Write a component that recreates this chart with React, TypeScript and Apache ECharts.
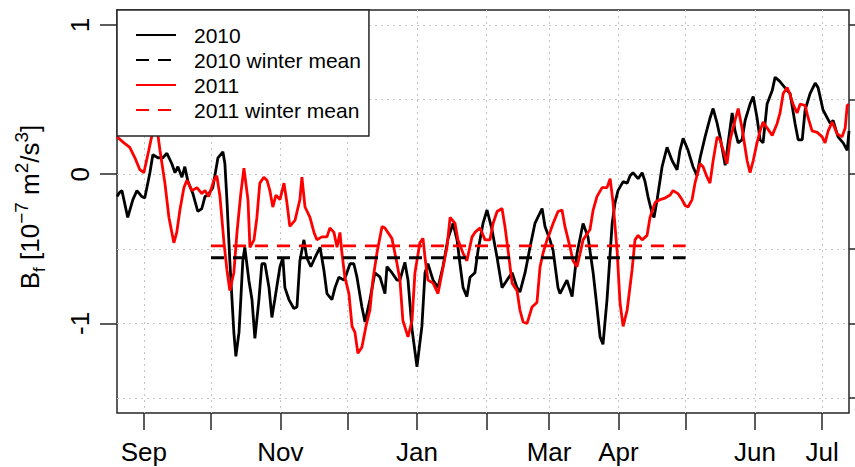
import { useEffect, useRef } from 'react';
import * as echarts from 'echarts';

const FONT = '"Liberation Sans", Arial, Helvetica, sans-serif';

// Days counted from 1 September; month starts used for ticks and grid
const monthStarts = [0, 30, 61, 91, 122, 153, 181, 212, 242, 273, 303];
const monthNames = ['Sep', 'Oct', 'Nov', 'Dec', 'Jan', 'Feb', 'Mar', 'Apr', 'May', 'Jun', 'Jul'];
const labelledMonths = ['Sep', 'Nov', 'Jan', 'Mar', 'Apr', 'Jun', 'Jul'];

const yLabelTicks = [-1, 0, 1];
const yGridTicks = [-1.5, -1, -0.5, 0, 0.5, 1];

// Winter period (1 Oct – 1 May) and its mean buoyancy flux
const winterSpan = [30, 242];
const winterMean2010 = -0.56;
const winterMean2011 = -0.48;

// [day since 1 Sep, B_f in 1e-7 m^2/s^3]
const flux2010: [number, number][] = [
  [-12, -0.15], [-10.7, -0.12], [-9.8, -0.11], [-7.2, -0.29], [-4.9, -0.17], [-3.1, -0.11], [-0.9, -0.15], [0.4, -0.16],
  [2.7, 0.01], [4.0, 0.13], [6.3, 0.11], [8.5, 0.11], [10.3, 0.14], [12.5, 0.07], [13.9, 0.01], [15.2, 0.05],
  [17.0, -0.02], [18.3, 0.05], [19.7, -0.05], [21.9, -0.13], [24.1, -0.25], [25.9, -0.23], [27.3, -0.15], [28.6, -0.14],
  [30.8, -0.09], [33.1, 0.11], [35.3, 0.15], [36.2, 0.07], [37.1, -0.17], [38.4, -0.58], [40.2, -1.06], [41.1, -1.22],
  [42.5, -1.06], [43.3, -0.84], [44.2, -0.58], [45.1, -0.49], [46.9, -0.71], [48.3, -0.84], [49.6, -1.10], [51.4, -0.84],
  [52.7, -0.60], [54.1, -0.60], [55.9, -0.76], [57.2, -0.96], [58.5, -0.84], [60.8, -0.62], [62.1, -0.56], [63.0, -0.76],
  [64.8, -0.84], [67.0, -0.90], [68.4, -0.89], [69.7, -0.58], [71.5, -0.44], [72.8, -0.56], [74.6, -0.62], [76.4, -0.56],
  [78.7, -0.49], [80.4, -0.64], [81.8, -0.80], [84.0, -0.84], [85.4, -0.76], [87.1, -0.69], [89.4, -0.71], [90.7, -0.66],
  [92.1, -0.60], [93.8, -0.60], [95.2, -0.69], [97.4, -0.89], [98.8, -0.99], [101.0, -0.84], [103.2, -0.66], [105.5, -0.69],
  [107.7, -0.80], [108.6, -0.62], [110.8, -0.66], [113.1, -0.71], [114.4, -0.71], [116.6, -0.59], [118.0, -0.71], [119.8, -1.04],
  [122.0, -1.29], [124.2, -1.02], [125.6, -0.66], [126.9, -0.60], [129.2, -0.71], [131.4, -0.76], [133.6, -0.62], [135.9, -0.43],
  [138.1, -0.33], [139.9, -0.44], [141.2, -0.60], [142.6, -0.76], [144.3, -0.82], [145.7, -0.69], [147.9, -0.66], [149.3, -0.51],
  [151.5, -0.33], [153.3, -0.24], [155.5, -0.37], [157.8, -0.56], [160.0, -0.76], [162.2, -0.71], [164.5, -0.66], [166.7, -0.76],
  [168.0, -0.79], [170.3, -0.66], [172.5, -0.49], [174.7, -0.33], [177.9, -0.23], [179.2, -0.35], [181.4, -0.44], [182.8, -0.51],
  [185.0, -0.76], [185.9, -0.80], [189.0, -0.71], [191.3, -0.82], [193.5, -0.53], [196.2, -0.33], [198.4, -0.42], [200.7, -0.66],
  [202.4, -0.89], [203.8, -1.09], [205.1, -1.14], [206.9, -0.84], [209.2, -0.33], [210.5, -0.19], [211.8, -0.11], [214.1, -0.05],
  [215.9, -0.06], [217.2, -0.01], [218.5, 0.01], [220.8, -0.03], [222.6, 0.01], [223.9, -0.05], [225.2, -0.15], [227.0, -0.26],
  [227.9, -0.29], [229.3, -0.17], [231.5, 0.05], [233.7, 0.18], [236.0, 0.09], [238.2, 0.03], [239.5, 0.16], [240.9, 0.24],
  [243.1, 0.16], [245.3, 0.05], [247.1, -0.01], [248.5, 0.11], [250.7, 0.25], [253.0, 0.38], [254.3, 0.44], [256.1, 0.34],
  [257.4, 0.25], [259.7, 0.06], [261.0, 0.21], [262.8, 0.41], [264.1, 0.29], [265.5, 0.21], [267.2, 0.23], [268.6, 0.36],
  [270.8, 0.47], [272.2, 0.52], [273.9, 0.38], [275.3, 0.23], [276.6, 0.21], [278.4, 0.47], [280.7, 0.56], [282.0, 0.65],
  [284.2, 0.62], [287.4, 0.56], [288.7, 0.54], [290.9, 0.34], [292.3, 0.23], [294.1, 0.23], [295.4, 0.43], [297.6, 0.54],
  [299.9, 0.61], [301.2, 0.58], [303.4, 0.43], [306.6, 0.34], [307.9, 0.36], [310.1, 0.25], [312.4, 0.21], [314.2, 0.16],
  [315, 0.29],
];

const flux2011: [number, number][] = [
  [-12, 0.25], [-8.9, 0.21], [-6.3, 0.18], [-4.0, 0.11], [-1.8, 0.03], [0.0, 0.01], [2.2, 0.16], [3.6, 0.26],
  [4.9, 0.33], [6.3, 0.26], [7.2, 0.16], [9.4, -0.06], [11.2, -0.29], [13.4, -0.46], [14.7, -0.39], [16.1, -0.24],
  [17.9, -0.09], [19.2, -0.04], [21.5, -0.11], [23.7, -0.09], [25.9, -0.13], [27.3, -0.11], [29.0, -0.15], [31.3, -0.04],
  [32.6, -0.01], [34.0, -0.15], [35.8, -0.46], [37.1, -0.64], [38.4, -0.78], [40.2, -0.66], [41.6, -0.39], [43.3, -0.13],
  [44.7, 0.04], [46.5, -0.17], [47.4, -0.49], [49.2, -0.44], [50.5, -0.29], [51.8, -0.06], [53.6, -0.02], [55.0, -0.04],
  [56.3, -0.11], [57.6, -0.22], [59.0, -0.14], [60.8, -0.17], [62.6, -0.06], [63.9, -0.19], [65.2, -0.35], [67.5, -0.31],
  [69.7, -0.17], [70.6, -0.02], [72.0, -0.22], [74.2, -0.29], [76.0, -0.39], [77.3, -0.44], [79.5, -0.42], [81.8, -0.42],
  [83.1, -0.36], [84.9, -0.39], [86.3, -0.49], [87.6, -0.39], [88.5, -0.53], [89.8, -0.69], [91.6, -0.80], [93.0, -1.02],
  [94.3, -1.06], [95.6, -1.20], [97.4, -1.16], [99.2, -1.02], [101.0, -0.91], [102.3, -0.71], [104.1, -0.53], [106.4, -0.35],
  [107.7, -0.36], [109.0, -0.39], [110.8, -0.43], [113.1, -0.60], [114.4, -0.71], [115.7, -0.98], [118.0, -1.09], [119.8, -0.98],
  [121.1, -0.66], [123.3, -0.46], [124.7, -0.43], [125.6, -0.56], [126.9, -0.71], [129.2, -0.73], [131.4, -0.80], [133.2, -0.66],
  [135.4, -0.49], [136.8, -0.29], [139.0, -0.33], [140.3, -0.44], [142.6, -0.53], [144.3, -0.58], [146.6, -0.42], [147.9, -0.39],
  [150.2, -0.36], [152.4, -0.44], [154.6, -0.44], [156.0, -0.33], [157.8, -0.25], [160.0, -0.23], [161.3, -0.35], [162.7, -0.51],
  [164.5, -0.73], [166.7, -0.78], [168.0, -0.91], [169.4, -0.99], [171.2, -1.00], [173.4, -0.89], [175.6, -0.86], [177.0, -0.62],
  [178.3, -0.53], [180.1, -0.44], [181.4, -0.39], [182.8, -0.33], [185.0, -0.25], [186.8, -0.24], [188.1, -0.35], [190.4, -0.49],
  [191.7, -0.58], [193.5, -0.62], [194.9, -0.53], [196.2, -0.44], [199.3, -0.37], [200.7, -0.24], [202.4, -0.15], [204.7, -0.09],
  [206.9, -0.09], [208.3, -0.03], [209.6, -0.19], [211.4, -0.51], [212.7, -0.86], [214.1, -1.02], [215.9, -0.91], [218.1, -0.64],
  [219.4, -0.44], [220.8, -0.41], [222.6, -0.44], [224.8, -0.41], [226.1, -0.29], [228.4, -0.19], [230.6, -0.17], [232.8, -0.16],
  [235.1, -0.14], [236.4, -0.11], [238.6, -0.13], [240.4, -0.17], [241.8, -0.21], [243.1, -0.22], [244.9, -0.17], [246.2, -0.06],
  [248.5, 0.07], [249.8, 0.05], [251.6, -0.02], [252.9, -0.06], [254.3, 0.09], [256.1, 0.25], [257.4, 0.23], [258.8, 0.16],
  [260.5, 0.07], [261.9, 0.23], [264.1, 0.36], [265.5, 0.44], [267.2, 0.31], [269.5, 0.09], [270.8, 0.01], [272.2, 0.09],
  [273.9, 0.21], [275.3, 0.29], [276.6, 0.35], [278.4, 0.31], [280.7, 0.26], [282.9, 0.34], [284.2, 0.41], [285.6, 0.54],
  [287.4, 0.58], [288.7, 0.53], [290.0, 0.47], [291.8, 0.41], [293.2, 0.47], [295.4, 0.46], [296.7, 0.38], [298.5, 0.29],
  [300.8, 0.28], [303.0, 0.25], [304.3, 0.21], [305.7, 0.29], [307.5, 0.35], [309.7, 0.27], [311.9, 0.25], [313.3, 0.31],
  [314.2, 0.46], [315, 0.47],
];

const AXIS_COLOR = '#262626';
const GRID_LINE = { color: '#c4c4c4', width: 1, type: [2, 4] as number[] };
const LINE_WIDTH = 2.8;

export default function App() {
  const ref = useRef<HTMLDivElement>(null);

  useEffect(() => {
    if (!ref.current) return;
    const chart = echarts.init(ref.current, undefined, { renderer: 'svg' });

    const labelledStarts = monthStarts.filter((_, i) => labelledMonths.includes(monthNames[i]));

    chart.setOption({
      animation: false,
      backgroundColor: '#ffffff',
      textStyle: { fontFamily: FONT },
      grid: {
        left: 117,
        top: 10,
        width: 732,
        height: 403,
        show: true,
        borderColor: AXIS_COLOR,
        borderWidth: 1.5,
        backgroundColor: 'transparent',
      },
      legend: {
        left: 117,
        top: 10,
        orient: 'vertical',
        data: ['2010', '2010 winter mean', '2011', '2011 winter mean'],
        backgroundColor: '#ffffff',
        borderColor: AXIS_COLOR,
        borderWidth: 1.5,
        borderRadius: 0,
        padding: [12.5, 8, 13.5, 18],
        itemGap: 0,
        itemWidth: 40,
        itemHeight: 14,
        selectedMode: false,
        itemStyle: { opacity: 0 },
        textStyle: { fontFamily: FONT, fontSize: 21, color: '#000', lineHeight: 25, padding: [0, 0, 0, 13] },
      },
      xAxis: {
        type: 'value',
        min: -12,
        max: 315,
        axisLine: { show: false, onZero: false },
        axisTick: { show: true, customValues: monthStarts, length: 17, lineStyle: { color: AXIS_COLOR, width: 1.5 } },
        axisLabel: {
          customValues: labelledStarts,
          margin: 26,
          fontSize: 26,
          color: '#000',
          fontFamily: FONT,
          formatter: (v: number) => monthNames[monthStarts.indexOf(v)] ?? '',
        },
        splitLine: { show: true, lineStyle: GRID_LINE },
      },
      yAxis: [
        {
          type: 'value',
          position: 'left',
          min: -1.6,
          max: 1.1,
          axisLine: { show: false, onZero: false },
          axisTick: { show: true, customValues: yLabelTicks, length: 17, lineStyle: { color: AXIS_COLOR, width: 1.5 } },
          axisLabel: {
            customValues: yLabelTicks,
            rotate: 90,
            margin: 24,
            fontSize: 26,
            color: '#000',
            fontFamily: FONT,
            formatter: (v: number) => String(v),
          },
          splitLine: { show: false },
        },
        {
          type: 'value',
          position: 'right',
          min: -1.6,
          max: 1.1,
          axisLine: { show: false, onZero: false },
          axisTick: { show: true, customValues: yGridTicks, length: 17, lineStyle: { color: AXIS_COLOR, width: 1.5 } },
          axisLabel: { show: false },
          splitLine: { show: true, lineStyle: GRID_LINE },
        },
      ],
      graphic: [
        {
          type: 'text',
          x: 30,
          y: 207,
          rotation: Math.PI / 2,
          style: {
            text: '{b|B}{sub|f}{b| [10}{sup|\u22127}{b| m}{sup|2}{b|/s}{sup|3}{b|]}',
            align: 'center',
            verticalAlign: 'middle',
            fill: '#000',
            rich: {
              b: { fontSize: 26, fontFamily: FONT, lineHeight: 36, fill: '#000' },
              sup: { fontSize: 19, fontFamily: FONT, lineHeight: 19, verticalAlign: 'top', fill: '#000' },
              sub: { fontSize: 17, fontFamily: FONT, lineHeight: 17, verticalAlign: 'bottom', fill: '#000' },
            },
          },
        },
      ],
      series: [
        {
          name: '2010',
          type: 'line',
          data: flux2010,
          symbol: 'none',
          color: '#000000',
          lineStyle: { color: '#000000', width: LINE_WIDTH },
          z: 2,
        },
        {
          name: '2011',
          type: 'line',
          data: flux2011,
          symbol: 'none',
          color: '#ff0000',
          lineStyle: { color: '#ff0000', width: LINE_WIDTH },
          z: 3,
        },
        {
          name: '2010 winter mean',
          type: 'line',
          data: winterSpan.map((d) => [d, winterMean2010]),
          symbol: 'none',
          color: '#000000',
          lineStyle: { color: '#000000', width: LINE_WIDTH, type: [13, 9] },
          z: 4,
        },
        {
          name: '2011 winter mean',
          type: 'line',
          data: winterSpan.map((d) => [d, winterMean2011]),
          symbol: 'none',
          color: '#ff0000',
          lineStyle: { color: '#ff0000', width: LINE_WIDTH, type: [13, 9] },
          z: 4,
        },
      ],
    });

    return () => chart.dispose();
  }, []);

  return <div ref={ref} style={{ width: 855, height: 467, position: 'absolute', left: 0, top: 0 }} />;
}
